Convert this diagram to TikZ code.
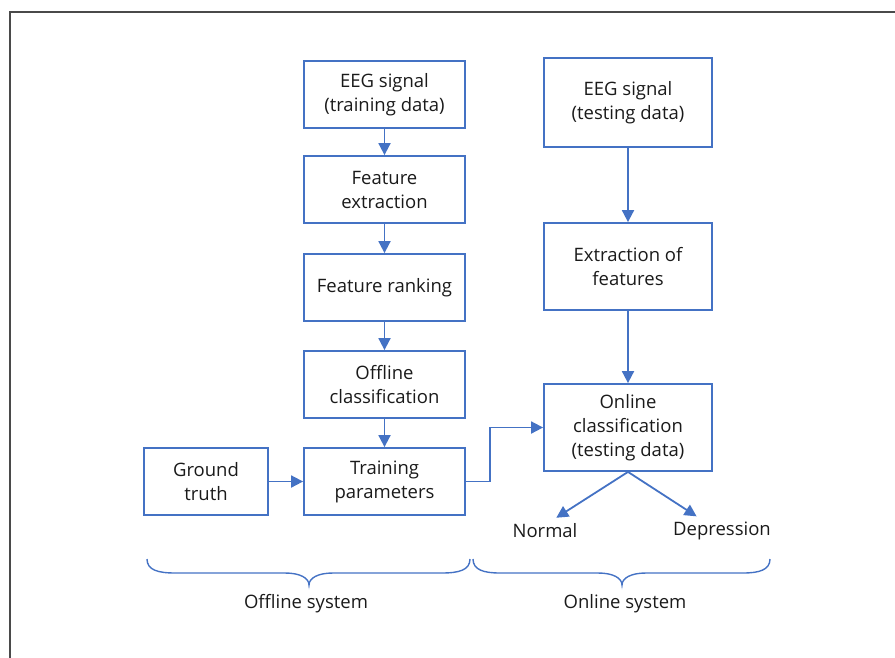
\documentclass[tikz,border=0pt]{standalone}
\usepackage{fontspec}
\setmainfont{Open Sans}
\usetikzlibrary{arrows.meta,calc}
\definecolor{boxblue}{HTML}{4472C4}
\definecolor{framegray}{HTML}{4A4A4A}
\definecolor{txt}{HTML}{1A1A1A}
\tikzset{
  stepbox/.style={draw=boxblue, line width=1.8pt, align=center, text=txt,
    inner sep=0pt, font=\fontsize{18.5}{24}\selectfont},
  lbl/.style={text=txt, inner sep=0pt, font=\fontsize{18.5}{24}\selectfont},
  flow/.style={draw=boxblue, line width=1.8pt,
    -{Triangle[length=12pt,width=12pt]}},
  bracepath/.style={draw=boxblue, line width=1.4pt}
}
\begin{document}
\begin{tikzpicture}[x=1pt,y=-1pt]
\useasboundingbox (0,0) rectangle (895,657);
% outer frame (open at right and bottom)
\draw[framegray, line width=2.6pt] (10,660) -- (10,12) -- (898,12);

% offline column
\node[stepbox, minimum width=161pt, minimum height=67pt] (eegtr) at (384.5,94.5) {EEG signal\\(training data)};
\node[stepbox, minimum width=161pt, minimum height=67pt] (fext) at (384.5,189.5) {Feature\\extraction};
\node[stepbox, minimum width=161pt, minimum height=67pt] (frank) at (384.5,287.5) {Feature ranking};
\node[stepbox, minimum width=161pt, minimum height=67pt] (offcl) at (384.5,384.5) {Offline\\classification};
\node[stepbox, minimum width=161pt, minimum height=67pt] (train) at (384.5,481.5) {Training\\parameters};
\node[stepbox, minimum width=124pt, minimum height=67pt] (ground) at (206,481.5) {Ground\\truth};

% online column
\node[stepbox, minimum width=168pt, minimum height=89pt] (eegte) at (628,102.5) {EEG signal\\(testing data)};
\node[stepbox, minimum width=168pt, minimum height=87pt] (extr) at (628,266.5) {Extraction of\\features};
\node[stepbox, minimum width=168pt, minimum height=87pt] (oncl) at (628,427.5) {Online\\classification\\(testing data)};

% outcomes
\node[lbl] (normal) at (545,531) {Normal};
\node[lbl] (depr) at (722,531) {Depression};

% connectors
\draw[flow] (eegtr) -- (fext);
\draw[flow] (fext) -- (frank);
\draw[flow] (frank) -- (offcl);
\draw[flow] (offcl) -- (train);
\draw[flow] (ground) -- (train);
\draw[flow] (eegte) -- (extr);
\draw[flow] (extr) -- (oncl);
\draw[flow] (train.east) -- ++(24,0) |- (oncl.west);
\draw[flow, shorten >=11pt] (oncl.south) -- ($(normal.north)+(2,0)$);
\draw[flow, shorten >=10pt] (oncl.south) -- ($(depr.north)+(-17,0)$);

% braces
\draw[bracepath] (147,559) .. controls (147,570) and (158,573) .. (175,573)
  -- (285,573) .. controls (300,573) and (309,578) .. (309,585)
  .. controls (309,578) and (318,573) .. (333,573)
  -- (442,573) .. controls (459,573) and (470,570) .. (470,559);
\draw[bracepath] (473,559) .. controls (473,570) and (484,573) .. (500,573)
  -- (598,573) .. controls (613,573) and (622,578) .. (622,585)
  .. controls (622,578) and (631,573) .. (646,573)
  -- (743,573) .. controls (759,573) and (770,570) .. (770,559);
\node[lbl] (offsys) at (306,604) {Offline system};
\node[lbl] (onsys) at (625,604) {Online system};
\end{tikzpicture}
\end{document}
